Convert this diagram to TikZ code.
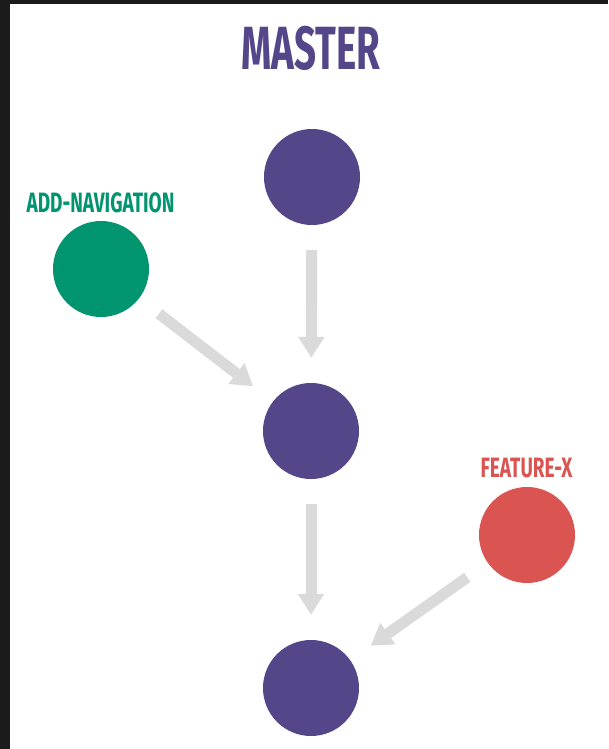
\documentclass[tikz,border=0pt]{standalone}
\usepackage{fontspec}
\usetikzlibrary{arrows.meta}
\newfontfamily\titlefont[FakeStretch=0.63]{Fira Sans}
\newfontfamily\tagfont[FakeStretch=0.68]{Fira Sans}
\definecolor{masterpurple}{RGB}{85,69,137}
\definecolor{navgreen}{RGB}{0,148,111}
\definecolor{featred}{RGB}{218,84,81}
\definecolor{arrowgray}{RGB}{218,218,218}
\definecolor{frame}{RGB}{27,27,27}

\begin{document}
\begin{tikzpicture} [x = 1pt, y = -1pt,
  commit/.style = {circle, minimum size = 96pt, inner sep = 0pt},
  branchtag/.style = {anchor = base, inner sep = 0pt, font = \tagfont\bfseries\fontsize{28}{28}\selectfont},
  flow/.style = {arrowgray, line width = 11pt, shorten <= 25pt, shorten >= 25pt,
                 -{Triangle[width = 25pt, length = 21pt]}}]
% frame and page
\fill[frame] (0, 0) rectangle (608, 749);
\fill[white] (10, 4.5) rectangle (608, 749);
\useasboundingbox (0, 0) rectangle (608, 749);
% branch names
\node[branchtag, masterpurple, font = \titlefont\bfseries\fontsize{61}{61}\selectfont] (master) at (311, 70){MASTER};
\node[branchtag, navgreen] (navtag) at (100.5, 212){ADD-NAVIGATION};
\node[branchtag, featred] (feattag) at (526.5, 477){FEATURE-X};
% commits
\node[commit, fill = masterpurple] (m1) at (312, 177){};
\node[commit, fill = masterpurple] (m2) at (311, 431){};
\node[commit, fill = masterpurple] (m3) at (311, 688){};
\node[commit, fill = navgreen] (nav) at (101, 269){};
\node[commit, fill = featred] (feat) at (527, 535){};
% merges
\draw[flow] (m1) -- (m2);
\draw[flow] (m2) -- (m3);
\draw[flow] (nav) -- (m2);
\draw[flow] (feat) -- (m3);
\end{tikzpicture}
\end{document}
